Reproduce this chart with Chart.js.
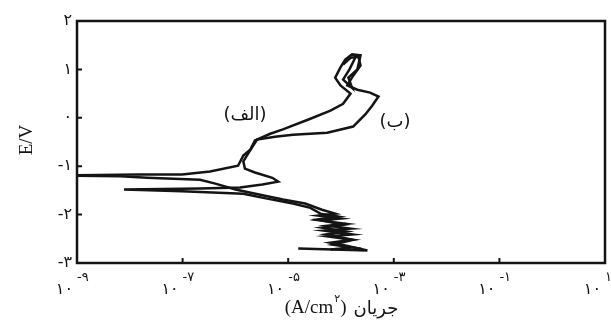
<!DOCTYPE html>
<html>
<head>
<meta charset="utf-8">
<script src="https://cdn.jsdelivr.net/npm/chart.js@4.4.1/dist/chart.umd.min.js"></script>
<style>
html, body { margin: 0; padding: 0; background: #fff; }
#wrap { width: 611px; height: 321px; }
</style>
</head>
<body>
<div id="wrap"><canvas id="tafel" width="611" height="321"></canvas></div>
<script>
// Polarization curves: log10 of current (A/cm2) and E (V)
const logCurrentA = [-4.81, -3.50, -3.92, -4.20, -3.79, -4.26, -3.79, -4.32, -3.82, -4.24,
    -3.90, -4.39, -4.01, -4.43, -4.11, -4.36, -4.68, -5.10, -5.53, -6.00,
    -6.38, -6.67, -7.67, -8.18, -9.30, -7.81, -7.01, -6.48, -5.95, -5.85,
    -5.72, -5.63, -5.34, -5.10, -4.58, -4.20, -3.96, -3.82, -4.01, -4.11,
    -4.01, -3.92, -3.79, -3.63, -3.69, -3.86, -3.79, -3.96, -3.84, -3.73];
const potentialA = [-2.70, -2.74, -2.64, -2.58, -2.52, -2.45, -2.41, -2.33, -2.29, -2.23,
    -2.19, -2.12, -2.08, -2.02, -1.98, -1.90, -1.77, -1.69, -1.59, -1.48,
    -1.36, -1.28, -1.24, -1.21, -1.19, -1.17, -1.17, -1.11, -0.99, -0.78,
    -0.66, -0.47, -0.33, -0.24, -0.02, 0.15, 0.29, 0.50, 0.67, 0.83,
    1.04, 1.20, 1.31, 1.29, 1.00, 0.83, 0.62, 0.79, 1.00, 1.24];

const logCurrentB = [-4.20, -3.79, -4.15, -3.77, -4.28, -3.90, -4.36, -3.96, -4.45, -4.05,
    -4.39, -4.58, -4.91, -5.40, -5.85, -7.01, -8.11, -6.67, -5.91, -5.49,
    -5.19, -5.30, -5.63, -5.82, -5.85, -5.76, -5.59, -5.25, -4.91, -4.26,
    -3.77, -3.54, -3.41, -3.29, -3.45, -3.69, -3.88, -3.77, -3.63, -3.67,
    -3.82, -3.96];
const potentialB = [-2.72, -2.68, -2.62, -2.52, -2.41, -2.35, -2.27, -2.21, -2.10, -2.04,
    -1.98, -1.86, -1.77, -1.67, -1.57, -1.52, -1.48, -1.46, -1.44, -1.38,
    -1.32, -1.24, -1.13, -1.05, -0.90, -0.74, -0.45, -0.39, -0.35, -0.31,
    -0.18, 0.07, 0.25, 0.44, 0.52, 0.58, 0.67, 0.87, 1.08, 1.26,
    1.24, 1.10];

const yTicks = [-3, -2, -1, 0, 1, 2];
const yTickLabels = ['-۳', '-۲', '-۱', '۰', '۱', '۲'];
const xTickExps = [-9, -7, -5, -3, -1, 1];
const xTickExpLabels = ['-۹', '-۷', '-۵', '-۳', '-۱', '۱'];

const LATIN = '"Liberation Serif", "DejaVu Sans", serif';
const FARSI = '"DejaVu Sans", sans-serif';
const INK = '#141414';

function toPoints(logs, pots) {
    return logs.map((lx, i) => ({ x: Math.pow(10, lx), y: pots[i] }));
}

// frame, inward ticks and all the axis text (Persian digits with superscripts)
const framePlugin = {
    id: 'frame',
    beforeDraw(chart) {
        const ctx = chart.ctx;
        ctx.save();
        ctx.fillStyle = '#fff';
        ctx.fillRect(0, 0, chart.width, chart.height);
        ctx.restore();
    },
    afterDraw(chart) {
        const { ctx, chartArea: a, scales: { x, y } } = chart;
        ctx.save();
        ctx.strokeStyle = INK;
        ctx.fillStyle = INK;
        ctx.lineWidth = 2.5;
        ctx.strokeRect(a.left, a.top, a.right - a.left, a.bottom - a.top);

        ctx.lineWidth = 2;
        ctx.beginPath();
        yTicks.forEach(v => {
            const py = y.getPixelForValue(v);
            ctx.moveTo(a.left, py);
            ctx.lineTo(a.left + 5, py);
        });
        xTickExps.forEach(e => {
            const px = x.getPixelForValue(Math.pow(10, e));
            ctx.moveTo(px, a.bottom);
            ctx.lineTo(px, a.bottom - 5);
        });
        ctx.stroke();

        // y tick labels
        ctx.font = '16px ' + FARSI;
        ctx.textAlign = 'right';
        ctx.textBaseline = 'middle';
        yTicks.forEach((v, i) => {
            ctx.fillText(yTickLabels[i], a.left - 5, y.getPixelForValue(v));
        });

        // x tick labels: ۱۰ with raised exponent
        xTickExps.forEach((e, i) => {
            const px = x.getPixelForValue(Math.pow(10, e));
            ctx.font = '16px ' + FARSI;
            ctx.textAlign = 'right';
            ctx.fillText('۱۰', px - 4, a.bottom + 27);
            ctx.font = '13px ' + FARSI;
            ctx.textAlign = 'left';
            ctx.fillText(xTickExpLabels[i], px, a.bottom + 15);
        });

        // y title
        ctx.save();
        ctx.translate(27, 140);
        ctx.rotate(-Math.PI / 2);
        ctx.font = '19px ' + LATIN;
        ctx.textAlign = 'center';
        ctx.fillText('E/V', 0, 0);
        ctx.restore();

        // x title: (A/cm۲) جریان
        const cx = (a.left + a.right) / 2;
        const ty = a.bottom + 45;
        ctx.textAlign = 'left';
        ctx.font = '19px ' + LATIN;
        const p1 = '(A/cm', p3 = ')';
        const w1 = ctx.measureText(p1).width;
        const w3 = ctx.measureText(p3).width;
        ctx.font = '11px ' + FARSI;
        const w2 = ctx.measureText('۲').width;
        ctx.font = '18px ' + FARSI;
        const word = 'جریان';
        const w4 = ctx.measureText(word).width;
        const total = w1 + w2 + w3 + 7 + w4;
        let sx = cx - total / 2;
        ctx.font = '19px ' + LATIN;
        ctx.fillText(p1, sx, ty);
        sx += w1;
        ctx.font = '11px ' + FARSI;
        ctx.fillText('۲', sx + 1, ty - 9);
        sx += w2 + 1;
        ctx.font = '19px ' + LATIN;
        ctx.fillText(p3, sx, ty);
        sx += w3 + 7;
        ctx.font = '18px ' + FARSI;
        ctx.fillText(word, sx, ty + 1);

        // curve labels
        ctx.font = '18px ' + FARSI;
        ctx.textAlign = 'center';
        ctx.fillText('(الف)', 245, 115);
        ctx.fillText('(ب)', 395, 122);
        ctx.restore();
    }
};

new Chart(document.getElementById('tafel'), {
    type: 'scatter',
    data: {
        datasets: [{
            label: 'الف',
            data: toPoints(logCurrentA, potentialA),
            showLine: true,
            borderColor: INK,
            borderWidth: 2.5,
            pointRadius: 0,
            tension: 0
        }, {
            label: 'ب',
            data: toPoints(logCurrentB, potentialB),
            showLine: true,
            borderColor: INK,
            borderWidth: 2.5,
            pointRadius: 0,
            tension: 0
        }]
    },
    options: {
        responsive: false,
        animation: false,
        events: [],
        layout: { padding: { left: 77, top: 21, right: 6, bottom: 58 } },
        plugins: { legend: { display: false }, tooltip: { enabled: false } },
        scales: {
            x: { type: 'logarithmic', min: 1e-9, max: 10, display: false },
            y: { min: -3, max: 2, display: false }
        }
    },
    plugins: [framePlugin]
});
</script>
</body>
</html>
